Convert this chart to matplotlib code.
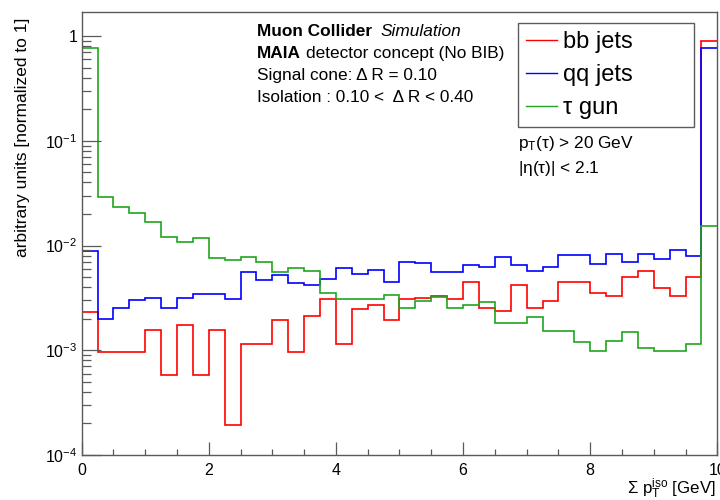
import numpy as np
import matplotlib
matplotlib.use("Agg")
import matplotlib.pyplot as plt
from matplotlib.ticker import FixedLocator, LogLocator, NullFormatter, FuncFormatter

plt.rcParams["font.family"] = ["Liberation Sans", "DejaVu Sans"]
plt.rcParams["mathtext.fontset"] = "custom"
plt.rcParams["mathtext.rm"] = "Liberation Sans"
plt.rcParams["mathtext.it"] = "Liberation Sans:italic"
plt.rcParams["mathtext.bf"] = "Liberation Sans:bold"

# Sum pT iso histogram: 40 bins of 0.25 GeV from 0 to 10 GeV
x_min, x_max, n_bins = 0.0, 10.0, 40

bb_jets = [0.00234, 0.000968, 0.000968, 0.000968, 0.00156, 0.000583, 0.00174, 0.000583,
           0.00156, 0.000195, 0.00115, 0.00115, 0.00195, 0.000968, 0.00212, 0.00309,
           0.00116, 0.00249, 0.00269, 0.00195, 0.00309, 0.00313, 0.0033, 0.00309,
           0.00446, 0.00251, 0.00235, 0.00424, 0.00251, 0.00293, 0.00446, 0.00446,
           0.00352, 0.0033, 0.00505, 0.00577, 0.00391, 0.0033, 0.00505, 0.896]

qq_jets = [0.00883, 0.0020, 0.00253, 0.00304, 0.00318, 0.00255, 0.00318, 0.00347,
           0.00347, 0.00306, 0.0056, 0.00466, 0.0052, 0.0044, 0.00417, 0.0048,
           0.00606, 0.00532, 0.00589, 0.00453, 0.00703, 0.00687, 0.0056, 0.0056,
           0.00658, 0.00629, 0.0078, 0.00658, 0.00577, 0.00621, 0.0082, 0.0082,
           0.00673, 0.00838, 0.00703, 0.00838, 0.00745, 0.0091, 0.00797, 0.773]

tau_gun = [0.77, 0.0288, 0.0233, 0.0204, 0.0166, 0.0122, 0.0108, 0.0117,
           0.00757, 0.0073, 0.00773, 0.00692, 0.00563, 0.00606, 0.00568, 0.00352,
           0.00309, 0.00309, 0.00309, 0.00337, 0.00255, 0.00298, 0.00323, 0.00255,
           0.00269, 0.00289, 0.00183, 0.00183, 0.00209, 0.00153, 0.00153, 0.00121,
           0.000975, 0.00122, 0.0015, 0.00106, 0.000975, 0.000975, 0.00115, 0.0154]

series = [("bb jets", bb_jets, "#ff0000"),
          ("qq jets", qq_jets, "#0000ff"),
          ("\u03c4 gun", tau_gun, "#1fa51f")]

edges = np.linspace(x_min, x_max, n_bins + 1)

fig = plt.figure(figsize=(7.2, 5.0), dpi=100)
ax = fig.add_axes([81.7 / 720, 1 - 455 / 500, (717.3 - 81.7) / 720, (455 - 11.7) / 500])

handles = []
for label, vals, col in series:
    ax.stairs(vals, edges, color=col, linewidth=1.2, baseline=None, label=label)
    handles.append(plt.Line2D([], [], color=col, linewidth=1.0))

ax.set_yscale("log")
ax.set_xlim(x_min, x_max)
ax.set_ylim(1e-4, 1.71)

frame_col = "#5a5a5a"
for s in ax.spines.values():
    s.set_color(frame_col)
    s.set_linewidth(1.0)

ax.xaxis.set_major_locator(FixedLocator([0, 2, 4, 6, 8, 10]))
ax.xaxis.set_minor_locator(FixedLocator(np.arange(0, 10.01, 0.5)))
ax.yaxis.set_major_locator(LogLocator(base=10, numticks=10))
ax.yaxis.set_minor_locator(LogLocator(base=10, subs=np.arange(2, 10), numticks=20))
ax.yaxis.set_minor_formatter(NullFormatter())


def decade_label(v, pos):
    e = int(round(np.log10(v)))
    if e == 0:
        return "1"
    return r"$\mathregular{10^{%d}}$" % e


ax.yaxis.set_major_formatter(FuncFormatter(decade_label))
ax.xaxis.set_major_formatter(FuncFormatter(lambda v, p: "%d" % v))

ax.tick_params(axis="both", which="both", direction="in", colors=frame_col,
               labelcolor="black", labelsize=11.5, top=False, right=False)
ax.tick_params(axis="x", which="major", length=9.4, width=0.9, pad=6)
ax.tick_params(axis="x", which="minor", length=4.3, width=0.9)
ax.tick_params(axis="y", which="major", length=13.7, width=0.9, pad=3)
ax.tick_params(axis="y", which="minor", length=6.5, width=0.9)

# axis titles
fig.text(23 / 720, 1 - 18 / 500, "arbitrary units [normalized to 1]", rotation=90,
         ha="center", va="top", fontsize=12.5)
fig.text(716 / 720, 1 - 494 / 500, r"$\mathregular{\Sigma\ p_T^{iso}}$ [GeV]",
         ha="right", va="baseline", fontsize=12.2)

# header text
fs = 12.4
t1 = fig.text(256.7 / 720, 1 - 36 / 500, "Muon Collider", fontsize=fs,
              fontweight="bold", va="baseline")
fig.canvas.draw()
ax.annotate("Simulation", xy=(1, 0), xycoords=t1, xytext=(6, 0),
            textcoords="offset points", fontsize=fs, style="italic", va="bottom")
t2 = fig.text(256.7 / 720, 1 - 58 / 500, "MAIA", fontsize=fs, fontweight="bold",
              va="baseline")
ax.annotate("detector concept (No BIB)", xy=(1, 0), xycoords=t2, xytext=(4, 0),
            textcoords="offset points", fontsize=fs, va="bottom")
fig.text(256.7 / 720, 1 - 80 / 500, "Signal cone: \u0394 R = 0.10", fontsize=fs,
         va="baseline")
fig.text(256.7 / 720, 1 - 102 / 500, "Isolation : 0.10 <  \u0394 R < 0.40", fontsize=fs,
         va="baseline")

# selection cuts
fig.text(518.5 / 720, 1 - 148 / 500, r"$\mathregular{p_T(\tau)}$ > 20 GeV",
         fontsize=fs, va="baseline")
fig.text(518.5 / 720, 1 - 173 / 500, r"|$\mathregular{\eta(\tau)}$| < 2.1",
         fontsize=fs, va="baseline")

leg = fig.legend(handles, [s[0] for s in series],
                 loc="upper left",
                 bbox_to_anchor=(518.3 / 720, 1 - 123.3 / 500, (694.3 - 518.3) / 720, 100 / 500),
                 mode="expand", borderaxespad=0, fancybox=False, frameon=True,
                 fontsize=17, handlelength=1.3, handletextpad=0.28,
                 labelspacing=0.47, borderpad=0.33)
leg.get_frame().set_edgecolor("#333333")
leg.get_frame().set_linewidth(1.0)

fig.savefig("out.png", dpi=100)
